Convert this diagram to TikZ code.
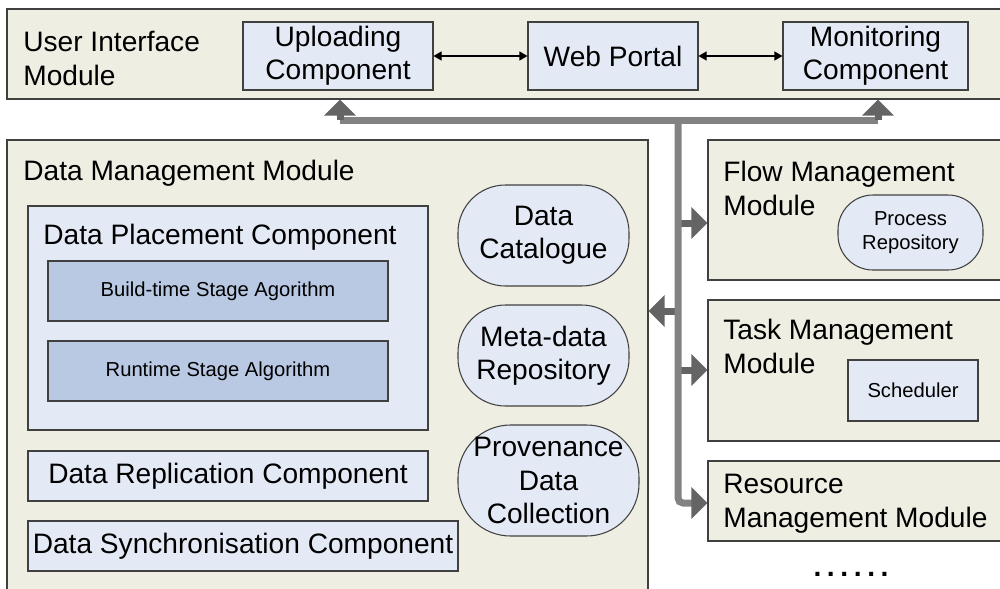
\documentclass[tikz,border=0pt]{standalone}
\usepackage{fontspec}
\setmainfont{Liberation Sans}
\usetikzlibrary{arrows.meta}

\definecolor{modfill}{RGB}{238,238,227}
\definecolor{compfill}{RGB}{228,234,245}
\definecolor{algfill}{RGB}{185,201,227}
\definecolor{busgray}{RGB}{130,130,130}
\definecolor{headgray}{RGB}{100,100,100}

\newcommand{\txtbig}{\fontsize{16}{19}\selectfont}
\newcommand{\txtsmall}{\fontsize{11.5}{14}\selectfont}

\begin{document}
\begin{tikzpicture}[x=0.2mm,y=-0.2mm,
  module/.style={draw=black!75,fill=modfill,line width=0.6pt,inner sep=0pt},
  title/.style={inner sep=0pt,align=left,font=\txtbig},
  comp/.style={draw=black!75,fill=compfill,line width=0.6pt,inner sep=0pt,align=center,font=\txtbig},
  alg/.style={draw=black!75,fill=algfill,line width=0.6pt,inner sep=0pt,font=\txtsmall},
  pill/.style={comp,rounded corners=9.5mm},
  link/.style={line width=0.6pt,{Triangle[length=1.6mm,width=1.8mm]}-{Triangle[length=1.6mm,width=1.8mm]}},
  busline/.style={draw=busgray,line width=1.4mm},
  busarrow/.style={draw=headgray,line width=1.4mm,-{Triangle[length=3.2mm,width=6.2mm]}}]
  \clip (0,0) rectangle (1000,588);

  % user interface
  \node[module, minimum width=199.6mm, minimum height=18mm] (ui) at (506,54) {};
  \node[title, anchor=base west] (uiT) at (23,85) {User Interface\\Module};
  \node[comp, minimum width=38mm, minimum height=13.6mm] (upl) at (338,56) {Uploading\\Component};
  \node[comp, minimum width=34mm, minimum height=13.6mm] (web) at (613,56) {Web Portal};
  \node[comp, minimum width=37mm, minimum height=13.6mm] (mon) at (875.5,56) {Monitoring\\Component};
  \draw[link] (upl) -- (web);
  \draw[link] (web) -- (mon);

  % data management
  \node[module, minimum width=128.2mm, minimum height=92mm] (dm) at (327.5,370) {};
  \node[title, anchor=base west] (dmT) at (23,180) {Data Management Module};
  \node[comp, minimum width=80mm, minimum height=44.8mm] (dp) at (228,318) {};
  \node[title, anchor=base west] (dpT) at (43,244) {Data Placement Component};
  \node[alg, minimum width=68mm, minimum height=12mm] (bt) at (218,291) {Build-time Stage Agorithm};
  \node[alg, minimum width=68mm, minimum height=12mm] (rt) at (218,371) {Runtime Stage Algorithm};
  \node[comp, minimum width=80mm, minimum height=10mm] (rep) at (228,476) {Data Replication Component};
  \node[comp, minimum width=86mm, minimum height=10mm] (syn) at (243,546) {Data Synchronisation Component};
  \node[pill, minimum width=34.2mm, minimum height=20.2mm] (cat) at (543.5,235.5) {Data\\Catalogue};
  \node[pill, minimum width=34.2mm, minimum height=20.2mm] (meta) at (543.5,355.5) {Meta-data\\Repository};
  \node[pill, rounded corners=10.5mm, minimum width=36.2mm, minimum height=22.2mm] (prov) at (548.5,480.5) {Provenance\\Data\\Collection};

  % flow, task, resource
  \node[module, minimum width=59.4mm, minimum height=28mm] (flow) at (856.5,210) {};
  \node[title, anchor=base west] (flowT) at (723,215) {Flow Management\\Module};
  \node[pill, rounded corners=7mm, font=\txtsmall, minimum width=29mm, minimum height=15mm] (proc) at (910.5,232.5) {Process\\Repository};
  \node[module, minimum width=59.4mm, minimum height=28.2mm] (task) at (856.5,370.5) {};
  \node[title, anchor=base west] (taskT) at (723,373) {Task Management\\Module};
  \node[comp, font=\txtsmall, minimum width=26mm, minimum height=12.2mm] (sch) at (913,390.5) {Scheduler};
  \node[module, minimum width=59.4mm, minimum height=16mm] (res) at (856.5,501) {};
  \node[title, anchor=base west] (resT) at (723,527) {Resource\\Management Module};
  \node[font=\txtbig\bfseries, anchor=base] (more) at (851,576) {\addfontfeature{LetterSpace=20}......};

  % bus
  \coordinate (jl) at (340,120);
  \coordinate (jr) at (878,120);
  \coordinate (jm) at (678,120);
  \coordinate (jb) at (678,503);
  \coordinate (jf) at (678,223);
  \coordinate (jd) at (678,311);
  \coordinate (jt) at (678,370);
  \draw[busline] (jl) -- (jr);
  \draw[busarrow] (jl) -- (jl |- ui.south);
  \draw[busarrow] (jr) -- (jr |- ui.south);
  \draw[busarrow] (jf) -- (jf -| flow.west);
  \draw[busarrow] (jd) -- (jd -| dm.east);
  \draw[busarrow] (jt) -- (jt -| task.west);
  \draw[busline, rounded corners=1mm, -{Triangle[length=3.2mm,width=6.2mm,color=headgray]}] (jm) -- (jb) -- (jb -| res.west);
\end{tikzpicture}
\end{document}
